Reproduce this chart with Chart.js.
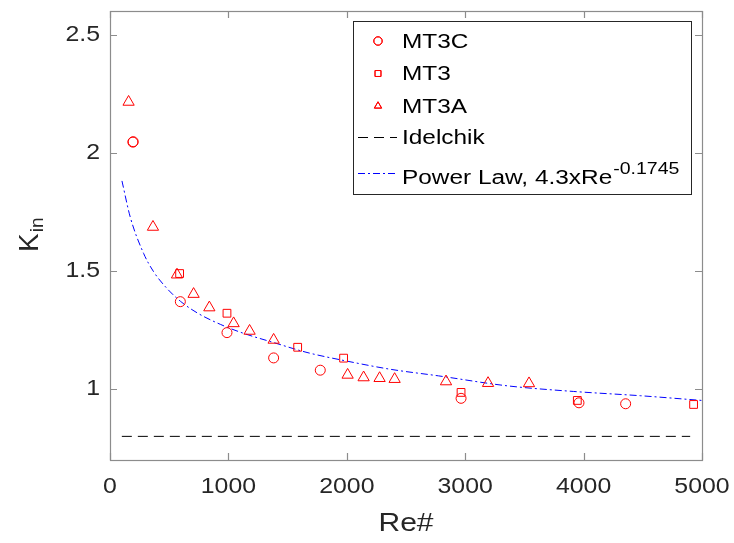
<!DOCTYPE html>
<html>
<head>
<meta charset="utf-8">
<script src="https://cdn.jsdelivr.net/npm/chart.js@4.4.1/dist/chart.umd.min.js"></script>
<style>
  html, body { margin: 0; padding: 0; background: #fff; }
  #wrap { width: 734px; height: 543px; }
</style>
</head>
<body>
<div id="wrap"><canvas id="kin"></canvas></div>
<script>
// tick labels
const reTicks = [0, 1000, 2000, 3000, 4000, 5000];
const kTicks = [1, 1.5, 2, 2.5];

const mt3cRe = [193, 196, 594, 988, 1382, 1776, 2965, 3961, 4355];
const mt3cK = [2.045, 2.047, 1.370, 1.239, 1.132, 1.080, 0.961, 0.942, 0.938];
const mt3Re = [588, 988, 1585, 1973, 2965, 3947, 4929];
const mt3K = [1.489, 1.321, 1.177, 1.131, 0.986, 0.952, 0.935];
const mt3aRe = [157, 363, 566, 706, 839, 1044, 1179, 1382, 2007, 2142, 2277, 2404, 2838, 3193, 3539];
const mt3aK = [2.215, 1.686, 1.484, 1.402, 1.345, 1.278, 1.246, 1.208, 1.060, 1.049, 1.046, 1.042, 1.032, 1.025, 1.024];

// Idelchik constant
const idelRe = [100, 4900];
const idelK = [0.8, 0.8];

// power law curve
const powRe = [101, 171, 284, 368, 481, 594, 735, 932, 1128, 1382, 1664, 1996, 2367, 2775, 3353, 3916, 4479, 5000];
const powK = [1.881, 1.728, 1.574, 1.497, 1.426, 1.372, 1.323, 1.274, 1.236, 1.197, 1.155, 1.119, 1.084, 1.056, 1.014, 0.990, 0.972, 0.952];

const legendNames = ['MT3C', 'MT3', 'MT3A', 'Idelchik', 'Power Law, 4.3xRe'];

function pts(xs, ys) {
    return xs.map((v, i) => ({ x: v, y: ys[i] }));
}

// text in the figure is a little wider than the font, so stretch it
function wideText(ctx, txt, px, py, sx, align) {
    ctx.save();
    ctx.translate(px, py);
    ctx.scale(sx, 1);
    ctx.textAlign = align;
    ctx.fillText(txt, 0, 0);
    ctx.restore();
}

const FONT = '"Liberation Sans", Arial, sans-serif';

// matlab-like box, inward ticks, labels and legend
const matlabFrame = {
    id: 'matlabFrame',
    afterDraw(chart) {
        const ctx = chart.ctx;
        const a = chart.chartArea;
        const x = chart.scales.x, y = chart.scales.y;
        ctx.save();
        ctx.strokeStyle = '#8c8c8c';
        ctx.lineWidth = 1.2;
        ctx.strokeRect(Math.round(a.left) + 0.5, Math.round(a.top) + 0.5,
            Math.round(a.right - a.left), Math.round(a.bottom - a.top));
        ctx.beginPath();
        reTicks.forEach(v => {
            const px = Math.round(x.getPixelForValue(v)) + 0.5;
            ctx.moveTo(px, a.bottom); ctx.lineTo(px, a.bottom - 7);
            ctx.moveTo(px, a.top); ctx.lineTo(px, a.top + 7);
        });
        kTicks.forEach(v => {
            const py = Math.round(y.getPixelForValue(v)) + 0.5;
            ctx.moveTo(a.left, py); ctx.lineTo(a.left + 7, py);
            ctx.moveTo(a.right, py); ctx.lineTo(a.right - 7, py);
        });
        ctx.stroke();

        // tick labels
        ctx.fillStyle = '#262626';
        ctx.font = '22px ' + FONT;
        ctx.textBaseline = 'middle';
        reTicks.forEach(v => wideText(ctx, String(v), x.getPixelForValue(v), 487, 1.13, 'center'));
        kTicks.forEach(v => wideText(ctx, String(v), 100, y.getPixelForValue(v), 1.13, 'right'));

        // axis titles
        ctx.font = '25px ' + FONT;
        ctx.textBaseline = 'alphabetic';
        wideText(ctx, 'Re#', 406, 531, 1.2, 'center');
        ctx.save();
        ctx.translate(38, 252);
        ctx.rotate(-Math.PI / 2);
        ctx.textAlign = 'left';
        ctx.font = '28px ' + FONT;
        ctx.fillText('K', 0, 0);
        const kw = ctx.measureText('K').width;
        ctx.font = '19px ' + FONT;
        ctx.fillText('in', kw + 1, 5);
        ctx.restore();

        // legend
        const lx = 353.5, ly = 21.5, lw = 338, lh = 173;
        ctx.fillStyle = '#fff';
        ctx.fillRect(lx, ly, lw, lh);
        ctx.strokeStyle = '#262626';
        ctx.lineWidth = 1;
        ctx.strokeRect(lx, ly, lw, lh);
        const rows = [42, 74.5, 107, 138.5, 178];
        const ds = chart.data.datasets;
        for (let i = 0; i < 3; i++) {
            ctx.strokeStyle = ds[i].borderColor;
            ctx.lineWidth = 1;
            Chart.helpers.drawPoint(ctx, { pointStyle: ds[i].pointStyle, radius: 4.2, rotation: 0, borderWidth: 1 }, 378, rows[i] - 1);
            ctx.stroke();
        }
        for (let i = 3; i < 5; i++) {
            const ly2 = i == 3 ? 137.5 : 173.5;
            ctx.strokeStyle = ds[i].borderColor;
            ctx.setLineDash(ds[i].borderDash);
            ctx.beginPath();
            ctx.moveTo(358, ly2); ctx.lineTo(397, ly2);
            ctx.stroke();
        }
        ctx.setLineDash([]);
        ctx.fillStyle = '#000';
        ctx.font = '20px ' + FONT;
        ctx.textBaseline = 'middle';
        for (let i = 0; i < 4; i++) {
            wideText(ctx, legendNames[i], 402, rows[i], 1.22, 'left');
        }
        wideText(ctx, legendNames[4], 402, rows[4], 1.22, 'left');
        ctx.font = '20px ' + FONT;
        const pw = ctx.measureText(legendNames[4]).width * 1.22;
        ctx.font = '16px ' + FONT;
        wideText(ctx, '-0.1745', 402 + pw + 1, 170, 1.22, 'left');
        ctx.restore();
    }
};

const redPts = { borderColor: '#ff0000', backgroundColor: 'rgba(0,0,0,0)', borderWidth: 1, showLine: false };

new Chart(document.getElementById('kin'), {
    type: 'scatter',
    data: {
        datasets: [
            Object.assign({ label: legendNames[0], data: pts(mt3cRe, mt3cK), pointStyle: 'circle', pointRadius: 5 }, redPts),
            Object.assign({ label: legendNames[1], data: pts(mt3Re, mt3K), pointStyle: 'rect', pointRadius: 5.5 }, redPts),
            Object.assign({ label: legendNames[2], data: pts(mt3aRe, mt3aK), pointStyle: 'triangle', pointRadius: 6.5 }, redPts),
            {
                label: legendNames[3], data: pts(idelRe, idelK), showLine: true,
                borderColor: '#000000', borderWidth: 1, borderDash: [10, 6], pointRadius: 0
            },
            {
                label: legendNames[4], data: pts(powRe, powK), showLine: true,
                borderColor: '#0000ff', borderWidth: 1, borderDash: [7, 3, 2, 3], pointRadius: 0,
                cubicInterpolationMode: 'monotone'
            }
        ]
    },
    options: {
        responsive: true,
        maintainAspectRatio: false,
        animation: false,
        layout: { padding: { top: 11, right: 32, left: 0, bottom: 0 } },
        plugins: { legend: { display: false }, tooltip: { enabled: false } },
        scales: {
            x: {
                type: 'linear', min: 0, max: 5000,
                grid: { display: false }, border: { display: false },
                ticks: { display: false },
                afterFit: s => { s.height = 83; }
            },
            y: {
                type: 'linear', min: 0.7, max: 2.6,
                grid: { display: false }, border: { display: false },
                ticks: { display: false },
                afterFit: s => { s.width = 110; }
            }
        }
    },
    plugins: [matlabFrame]
});
</script>
</body>
</html>
